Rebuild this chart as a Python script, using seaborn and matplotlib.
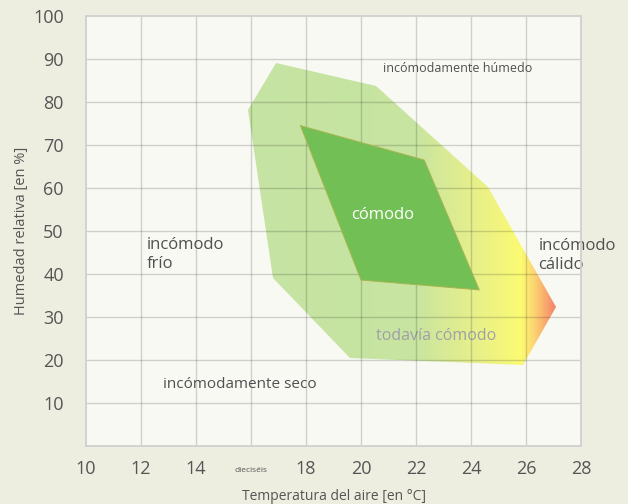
import numpy as np
import matplotlib
matplotlib.use("Agg")
import matplotlib.pyplot as plt
from matplotlib.colors import LinearSegmentedColormap
from matplotlib.patches import Polygon
from matplotlib.transforms import ScaledTranslation
import seaborn as sns

# --- data ---
hull_temp = [16.9, 20.55, 24.6, 27.1, 25.9, 19.6, 16.8, 15.9]
hull_hum = [89.0, 83.8, 60.2, 32.4, 18.8, 20.4, 39.0, 78.1]
comfort_temp = [17.8, 22.3, 24.3, 20.0]
comfort_hum = [74.5, 66.5, 36.3, 38.6]
x_ticks = [10, 12, 14, 16, 18, 20, 22, 24, 26, 28]
x_labels = ["10", "12", "14", "dieciséis", "18", "20", "22", "24", "26", "28"]
y_ticks = [10, 20, 30, 40, 50, 60, 70, 80, 90, 100]
labels_text = ["incómodamente húmedo", "incómodo\nfrío", "incómodamente seco",
               "todavía cómodo", "incómodo\ncálido"]
labels_x = [20.8, 12.2, 12.8, 20.55, 26.45]
labels_y = [87.9, 44.6, 14.2, 25.6, 44.4]
labels_size = [9, 12, 11, 11.5, 12]
labels_color = ["#505050", "#505050", "#505050", "#a0a0a8", "#505050"]

sns.set_theme(style="white")
plt.rcParams["font.family"] = ["Open Sans", "DejaVu Sans"]

fig = plt.figure(figsize=(6.28, 5.04), dpi=100, facecolor="#eeeee0")
ax = fig.add_axes([86 / 628, 1 - 446 / 504, (581 - 86) / 628, (446 - 16) / 504])
ax.set_facecolor("#f8f9f3")

ax.set_xlim(10, 28)
ax.set_ylim(0, 100)

# hull with horizontal gradient (mesh clipped to the hull outline)
hull = Polygon(np.column_stack([hull_temp, hull_hum]), closed=True,
               facecolor="none", edgecolor="none", zorder=1)
ax.add_patch(hull)
cmap = LinearSegmentedColormap.from_list(
    "warm", [(0.0, "#c5e3a2"), (0.54, "#c7e4a0"), (0.72, "#e4ee8c"),
             (0.89, "#fbfa72"), (0.94, "#fbc870"), (1.0, "#f4826a")])
xmin, xmax = min(hull_temp), max(hull_temp)
ymin, ymax = min(hull_hum), max(hull_hum)
n_cols = 300
gx = np.linspace(xmin, xmax, n_cols + 1)
gy = np.array([ymin, ymax])
gc = ((np.arange(n_cols) + 0.5) / n_cols).reshape(1, -1)
mesh = ax.pcolormesh(gx, gy, gc, cmap=cmap, vmin=0, vmax=1, shading="flat",
                     zorder=1, antialiased=False, edgecolors="none")
mesh.set_clip_path(hull)
ax.set_xlim(10, 28)
ax.set_ylim(0, 100)

# grid lines at the tick positions, drawn above the hull
for xv in x_ticks[1:-1]:
    ax.axvline(xv, color="#000000", alpha=0.16, linewidth=1.0, zorder=2)
for yv in y_ticks[:-1]:
    ax.axhline(yv, color="#000000", alpha=0.16, linewidth=1.0, zorder=2)

# comfortable zone
ax.fill(comfort_temp, comfort_hum, facecolor="#72bf55", edgecolor="none",
        zorder=3)
sns.lineplot(x=comfort_temp + [comfort_temp[0]], y=comfort_hum + [comfort_hum[0]],
             sort=False, color="#a8b450", linewidth=0.7, ax=ax, zorder=3.1,
             estimator=None)

ax.text(20.8, 53.7, "cómodo", ha="center", va="center", fontsize=12,
        color="white", zorder=4)

for t, x, y, s, c in zip(labels_text, labels_x, labels_y, labels_size, labels_color):
    ax.text(x, y, t, ha="left", va="center", fontsize=s, color=c, zorder=1.5,
            linespacing=1.25, clip_on=False)

# ticks
ax.set_xticks(x_ticks)
ax.set_yticks(y_ticks)
ax.set_xticklabels(x_labels)
ax.tick_params(axis="x", length=0, pad=10)
ax.tick_params(axis="y", length=0, pad=16)
ax.grid(False)
for sp in ax.spines.values():
    sp.set_color("#d0d0d0")
    sp.set_linewidth(1.3)

for lbl in ax.get_xticklabels():
    if lbl.get_text() == "dieciséis":
        lbl.set_fontsize(6)
        lbl.set_transform(lbl.get_transform() +
                          ScaledTranslation(0, -5 / 72, fig.dpi_scale_trans))
    else:
        lbl.set_fontsize(13)
    lbl.set_color("#555555")
for lbl in ax.get_yticklabels():
    lbl.set_fontsize(13)
    lbl.set_color("#555555")

ax.set_xlabel("Temperatura del aire [en °C]", fontsize=10, color="#555555", labelpad=8)
ax.set_ylabel("Humedad relativa [en %]", fontsize=10.5, color="#555555", labelpad=3)

fig.savefig("out.png", dpi=100, facecolor=fig.get_facecolor())
